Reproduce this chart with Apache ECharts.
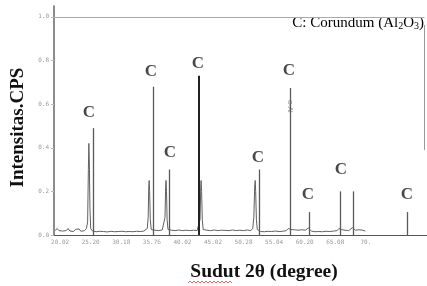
<!DOCTYPE html>
<html>
<head>
<meta charset="utf-8">
<script src="https://cdn.jsdelivr.net/npm/echarts@6/dist/echarts.min.js"></script>
<style>
html, body { margin: 0; padding: 0; background: #fff; }
#echart { width: 427px; height: 286px; }
</style>
</head>
<body>
<div id="echart"></div>
<script>
// tick positions (2θ) and what the scan prints under them
var xTicks = [20, 25, 30, 35, 40, 45, 50, 55, 60, 65, 70];
var xTickLabels = ['20.02', '25.20', '30.18', '35.76', '40.02', '45.02', '50.28', '55.04', '60.20', '65.08', '70.'];
var yTicks = [0, 0.2, 0.4, 0.6, 0.8, 1.0];
var yTickLabels = ['0.0', '0.2', '0.4', '0.6', '0.8', '1.0'];

// measured diffraction pattern [2θ, intensity]
var pattern = [
  [19.2,0.02],[19.5,0.03],[19.8,0.02],[20.1,0.028],[20.4,0.018],[20.7,0.026],[21.0,0.02],[21.3,0.03],[21.6,0.018],
  [21.9,0.024],[22.2,0.016],[22.5,0.026],[22.8,0.02],[23.1,0.028],[23.4,0.017],[23.7,0.024],[24.0,0.02],[24.3,0.03],
  [24.5,0.06],[24.62,0.3],[24.7,0.42],[24.78,0.33],[24.88,0.12],[25.0,0.03],
  [25.3,0.018],[25.6,0.024],[25.9,0.015],[26.2,0.022],[26.5,0.017],[26.8,0.025],[27.1,0.016],[27.4,0.02],[27.7,0.014],
  [28.0,0.022],[28.3,0.017],[28.6,0.024],[28.9,0.015],[29.2,0.02],[29.5,0.016],[29.8,0.023],[30.1,0.017],[30.4,0.021],
  [30.7,0.015],[31.0,0.02],[31.3,0.016],[31.6,0.022],[31.9,0.015],[32.2,0.02],[32.5,0.017],[32.8,0.023],[33.1,0.016],
  [33.4,0.02],[33.7,0.018],[34.0,0.024],[34.25,0.03],
  [34.4,0.08],[34.5,0.22],[34.56,0.25],[34.64,0.2],[34.75,0.07],[34.9,0.025],
  [35.2,0.018],[35.5,0.022],[35.8,0.016],[36.1,0.02],[36.4,0.017],[36.7,0.023],[37.0,0.03],
  [37.15,0.08],[37.26,0.22],[37.32,0.25],[37.4,0.2],[37.5,0.07],[37.65,0.025],
  [37.9,0.018],[38.2,0.022],[38.5,0.016],[38.8,0.02],[39.1,0.017],[39.4,0.023],[39.7,0.016],[40.0,0.02],[40.3,0.018],
  [40.6,0.022],[40.9,0.015],[41.2,0.02],[41.5,0.017],[41.8,0.022],[42.1,0.016],[42.4,0.02],[42.7,0.025],
  [42.88,0.07],[43.0,0.22],[43.06,0.25],[43.14,0.2],[43.25,0.07],[43.4,0.025],
  [43.7,0.018],[44.0,0.022],[44.3,0.016],[44.6,0.02],[44.9,0.017],[45.2,0.023],[45.5,0.015],[45.8,0.02],[46.1,0.017],
  [46.4,0.022],[46.7,0.016],[47.0,0.021],[47.3,0.015],[47.6,0.02],[47.9,0.018],[48.2,0.023],[48.5,0.016],[48.8,0.02],
  [49.1,0.017],[49.4,0.022],[49.7,0.016],[50.0,0.02],[50.3,0.018],[50.6,0.023],[50.9,0.016],[51.2,0.02],[51.5,0.03],
  [51.68,0.08],[51.82,0.22],[51.9,0.25],[51.98,0.2],[52.1,0.07],[52.25,0.025],
  [52.5,0.02],[52.8,0.016],[53.1,0.022],[53.4,0.015],[53.7,0.02],[54.0,0.017],[54.3,0.023],[54.6,0.016],[54.9,0.02],
  [55.2,0.018],[55.5,0.022],[55.8,0.016],[56.1,0.02],[56.4,0.017],[56.7,0.024],[57.0,0.02],[57.3,0.03],[57.5,0.035],
  [57.7,0.025],[58.0,0.02],[58.3,0.024],[58.6,0.016],[58.9,0.022],[59.2,0.017],[59.5,0.024],[59.8,0.018],[60.1,0.022],
  [60.4,0.026],[60.6,0.032],[60.8,0.024],[61.1,0.018],[61.4,0.022],[61.7,0.015],[62.0,0.02],[62.3,0.016],[62.6,0.022],
  [62.9,0.015],[63.2,0.02],[63.5,0.017],[63.8,0.022],[64.1,0.016],[64.4,0.02],[64.7,0.018],[65.0,0.023],[65.3,0.02],
  [65.6,0.03],[65.8,0.038],[66.0,0.025],[66.3,0.03],[66.6,0.022],[66.9,0.028],[67.2,0.02],[67.5,0.026],[67.8,0.034],
  [68.0,0.03],[68.3,0.022],[68.6,0.018],[68.9,0.024],[69.2,0.016],[69.5,0.022],[69.9,0.018]
];

// corundum reference lines [2θ, relative height]
var corundumLines = [
  [25.38, 0.49], [35.19, 0.68], [37.81, 0.30], [42.71, 0.73], [52.52, 0.30],
  [57.59, 0.674], [60.70, 0.105], [65.77, 0.20], [67.90, 0.20], [76.73, 0.105]
];

// where the "C" markers sit [2θ, height]
var corundumMarks = [
  [24.72, 0.56], [34.86, 0.75], [37.97, 0.376], [42.55, 0.784], [52.36, 0.353],
  [57.43, 0.752], [60.54, 0.183], [65.93, 0.298], [76.73, 0.183]
];

var serif = '"Liberation Serif", "DejaVu Serif", serif';

var myChart = echarts.init(document.getElementById('echart'));

var stickLines = corundumLines.map(function (d, i) {
  return [
    { coord: [d[0], 0], lineStyle: { color: i === 3 ? '#222' : '#5a5a5a', width: i === 3 ? 2 : 1.3 } },
    { coord: [d[0], d[1]] }
  ];
});

var option = {
  animation: false,
  grid: { left: 54, right: 0, top: 6, bottom: 51 },
  xAxis: {
    type: 'value',
    min: 19,
    max: 80,
    splitLine: { show: false },
    axisLine: { lineStyle: { color: '#555', width: 1 } },
    axisTick: { show: false },
    axisLabel: {
      customValues: xTicks,
      fontSize: 6,
      color: '#999',
      margin: 4,
      fontFamily: 'DejaVu Sans Mono',
      formatter: function (v) {
        var i = xTicks.indexOf(v);
        return i >= 0 ? xTickLabels[i] : '';
      }
    }
  },
  yAxis: {
    type: 'value',
    min: 0,
    max: 1.05,
    name: 'Intensitas.CPS',
    nameLocation: 'middle',
    nameRotate: 90,
    nameGap: 23,
    nameTextStyle: { fontFamily: serif, fontWeight: 'bold', fontSize: 19, color: '#111', padding: [0, 14, 0, 0] },
    splitLine: { show: false },
    axisLine: { show: true, lineStyle: { color: '#666', width: 1.5 } },
    axisTick: { show: true, customValues: yTicks, length: 3, lineStyle: { color: '#bbb' } },
    axisLabel: {
      customValues: yTicks,
      fontSize: 6,
      color: '#999',
      margin: 5,
      fontFamily: 'DejaVu Sans Mono',
      formatter: function (v) {
        var i = yTicks.indexOf(v);
        return i >= 0 ? yTickLabels[i] : '';
      }
    }
  },
  series: [
    {
      name: 'pattern',
      type: 'line',
      data: pattern,
      showSymbol: false,
      lineStyle: { color: '#606060', width: 1 },
      markLine: {
        silent: true,
        symbol: ['none', 'none'],
        label: { show: false },
        data: [
          [{ coord: [19, 1.0], lineStyle: { color: '#aaa', width: 1, type: 'solid' } }, { coord: [79.6, 1.0] }],
          [{ coord: [79.5, 0.963], lineStyle: { color: '#999', width: 1, type: 'solid' } }, { coord: [79.5, 0.39] }]
        ]
      }
    },
    {
      name: 'corundum',
      type: 'line',
      data: [],
      markLine: {
        silent: true,
        symbol: ['none', 'none'],
        label: { show: false },
        lineStyle: { type: 'solid' },
        data: stickLines
      }
    },
    {
      name: 'marks',
      type: 'scatter',
      data: corundumMarks,
      symbolSize: 0,
      label: {
        show: true,
        position: 'inside',
        formatter: 'C',
        fontFamily: serif,
        fontWeight: 'bold',
        fontSize: 17,
        color: '#1a1a1a'
      }
    },
    {
      name: 'tag',
      type: 'scatter',
      data: [[57.59, 0.59]],
      symbolSize: 0,
      label: {
        show: true,
        position: 'inside',
        formatter: 'α-Al',
        rotate: -90,
        fontSize: 7,
        color: '#777'
      }
    }
  ],
  graphic: [
    {
      type: 'text',
      right: 3,
      top: 16,
      style: {
        text: '{n|C: Corundum (Al}{s|2}{n|O}{s|3}{n|)}',
        rich: {
          n: { fontFamily: serif, fontSize: 15, color: '#222', lineHeight: 17, verticalAlign: 'bottom' },
          s: { fontFamily: serif, fontSize: 10, color: '#222', lineHeight: 13, verticalAlign: 'bottom' }
        }
      }
    },
    {
      type: 'text',
      x: 264,
      y: 272,
      style: {
        text: 'Sudut 2θ (degree)',
        fontFamily: serif,
        fontWeight: 'bold',
        fontSize: 19.5,
        fill: '#111',
        align: 'center',
        verticalAlign: 'middle'
      }
    },
    {
      type: 'polyline',
      silent: true,
      shape: {
        points: [[188,283],[190,281],[192,283],[194,281],[196,283],[198,281],[200,283],[202,281],[204,283],[206,281],
                 [208,283],[210,281],[212,283],[214,281],[216,283],[218,281],[220,283],[222,281],[224,283],[226,281],
                 [228,283],[230,281],[232,283]]
      },
      style: { stroke: '#e04040', lineWidth: 0.8, fill: null }
    }
  ]
};

myChart.setOption(option);
</script>
</body>
</html>
